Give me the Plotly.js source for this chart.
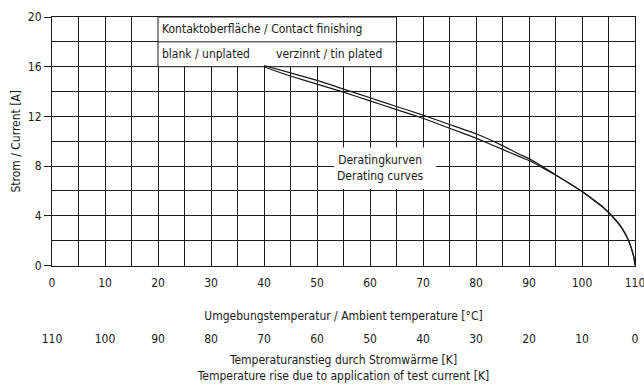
<!DOCTYPE html>
<html>
<head>
<meta charset="utf-8">
<script src="https://cdn.plot.ly/plotly-3.0.1.min.js"></script>
<style>html,body{margin:0;padding:0;background:#fff;}#chart{width:644px;height:385px;}</style>
</head>
<body>
<div id="chart"></div>
<script>
// Ambient temperature [°C] and permissible current [A]
const tempUnplated = [40,45,50,55,60,65,70,75,80,85,88,90,92,95,100,102,104,105,106,107,107.5,108,108.5,109,109.5,109.8,110];
const currentUnplated = [16.1,15.5,14.9,14.2,13.5,12.8,12.1,11.35,10.6,9.65,9.0,8.6,8.1,7.3,5.97,5.35,4.7,4.3,3.85,3.35,3.05,2.7,2.3,1.8,1.15,0.65,0];
const tempTin = [40,45,50,55,60,65,70,75,80,85,88,90,92,95,100,102,104,105,106,107,107.5,108,108.5,109,109.5,109.8,110];
const currentTin = [16.0,15.25,14.6,13.95,13.25,12.55,11.85,11.05,10.25,9.35,8.8,8.45,8.0,7.28,5.95,5.32,4.66,4.25,3.8,3.3,3.0,2.65,2.25,1.75,1.1,0.6,0];
// temperature rise axis [K]
const riseRange = [110, 0];

const FONT = "Liberation Sans Narrow, DejaVu Sans Condensed, Roboto, sans-serif";
const INK = '#1a1a1a';

const traces = [
  {x: tempUnplated, y: currentUnplated, type: 'scatter', mode: 'lines',
   line: {color: INK, width: 1.2, shape: 'spline', smoothing: 0.4}, name: 'blank / unplated', hoverinfo: 'skip'},
  {x: tempTin, y: currentTin, type: 'scatter', mode: 'lines',
   line: {color: INK, width: 1.2, shape: 'spline', smoothing: 0.4}, name: 'verzinnt / tin plated', hoverinfo: 'skip'},
  {x: riseRange, y: [null, null], xaxis: 'x2', type: 'scatter', mode: 'lines', opacity: 0, hoverinfo: 'skip'}
];

const layout = {
  width: 644, height: 385,
  margin: {l: 52, r: 9, t: 17, b: 0},
  paper_bgcolor: '#fff', plot_bgcolor: '#fff',
  showlegend: false,
  font: {family: FONT, size: 12, color: INK},
  xaxis: {
    range: [0, 110], dtick: 10, tick0: 0,
    showgrid: true, gridcolor: INK, gridwidth: 1,
    minor: {dtick: 5, tick0: 0, showgrid: true, gridcolor: INK, gridwidth: 1},
    showline: true, mirror: true, linecolor: INK, linewidth: 1,
    ticks: '', ticklabelstandoff: 6, zeroline: false, ticklabeloverflow: 'allow',
    title: {text: 'Umgebungstemperatur / Ambient temperature [°C]', standoff: 22, font: {size: 12}},
    fixedrange: true
  },
  xaxis2: {
    overlaying: 'x', anchor: 'free', position: 0.149, side: 'bottom',
    range: riseRange, dtick: 10, showgrid: false, showline: false, zeroline: false, ticks: '',
    ticklabeloverflow: 'allow',
    title: {text: 'Temperaturanstieg durch Stromwärme [K]<br>Temperature rise due to application of test current [K]', standoff: 10, font: {size: 12}},
    fixedrange: true
  },
  yaxis: {
    range: [0, 20], dtick: 4, tick0: 0, domain: [0.3247, 1],
    showgrid: true, gridcolor: INK, gridwidth: 1,
    minor: {dtick: 2, tick0: 0, showgrid: true, gridcolor: INK, gridwidth: 1},
    showline: true, mirror: true, linecolor: INK, linewidth: 1,
    ticks: 'outside', ticklen: 7, tickcolor: INK, tickwidth: 1, zeroline: false,
    title: {text: 'Strom / Current [A]', standoff: 4, font: {size: 12}},
    fixedrange: true
  },
  shapes: [
    {type: 'rect', xref: 'x', yref: 'y', x0: 20, x1: 65, y0: 16, y1: 20, layer: 'between',
     fillcolor: '#fff', line: {color: INK, width: 1}},
    {type: 'line', xref: 'x', yref: 'y', x0: 20, x1: 65, y0: 18, y1: 18, layer: 'between',
     line: {color: INK, width: 1}},
    {type: 'rect', xref: 'x', yref: 'y', x0: 53.2, x1: 72.5, y0: 6.15, y1: 9.5, layer: 'between',
     fillcolor: '#fff', line: {width: 0}}
  ],
  annotations: [
    {xref: 'x', yref: 'y', x: 20.4, y: 19, xanchor: 'left', yanchor: 'middle', showarrow: false,
     text: 'Kontaktoberfläche / Contact finishing', font: {size: 12}},
    {xref: 'x', yref: 'y', x: 20.4, y: 17, xanchor: 'left', yanchor: 'middle', showarrow: false,
     text: 'blank / unplated', font: {size: 12}},
    {xref: 'x', yref: 'y', x: 41.8, y: 17, xanchor: 'left', yanchor: 'middle', showarrow: false,
     text: 'verzinnt / tin plated', font: {size: 12}},
    {xref: 'x', yref: 'y', x: 62.0, y: 7.85, xanchor: 'center', yanchor: 'middle', showarrow: false,
     text: 'Deratingkurven<br>Derating curves', font: {size: 12}}
  ]
};

Plotly.newPlot('chart', traces, layout, {staticPlot: true, displayModeBar: false});
</script>
</body>
</html>
